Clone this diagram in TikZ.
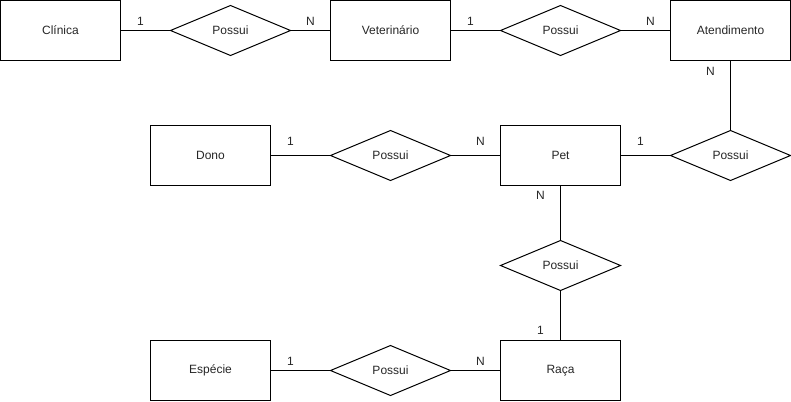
\documentclass[tikz,border=0pt]{standalone}
\usepackage{fontspec}
\setmainfont{Liberation Sans}
\usetikzlibrary{shapes.geometric}
\begin{document}
\begin{tikzpicture}[x=1pt,y=-1pt,
  every node/.style={font=\fontsize{12}{14}\selectfont, text=black!85},
  entity/.style={draw=black, line width=1pt, minimum width=120pt, minimum height=60pt, inner sep=0pt, outer sep=0pt},
  rel/.style={draw=black, line width=1pt, diamond, aspect=2.4, minimum width=120pt, minimum height=50pt, inner sep=0pt, outer sep=0pt},
  conn/.style={draw=black, line width=1pt},
  card/.style={inner sep=0pt}]
\useasboundingbox (0,0) rectangle (791,401);
\begin{scope}[xshift=0.5pt,yshift=-0.5pt]
% entities
\node[entity] (clinica) at (60,30) {Clínica};
\node[entity] (vet) at (390,30) {Veterinário};
\node[entity] (atend) at (730,30) {Atendimento};
\node[entity] (dono) at (210,155) {Dono};
\node[entity] (pet) at (560,155) {Pet};
\node[entity] (especie) at (210,370) {Espécie};
\node[entity] (raca) at (560,370) {Raça};
% relationships
\node[rel] (r1) at (230,30) {Possui};
\node[rel] (r2) at (560,30) {Possui};
\node[rel] (r3) at (390,155) {Possui};
\node[rel] (r4) at (730,155) {Possui};
\node[rel] (r5) at (560,265) {Possui};
\node[rel] (r6) at (390,370) {Possui};
% connectors
\draw[conn] (clinica.east) -- (r1.west);
\draw[conn] (r1.east) -- (vet.west);
\draw[conn] (vet.east) -- (r2.west);
\draw[conn] (r2.east) -- (atend.west);
\draw[conn] (atend.south) -- (r4.north);
\draw[conn] (pet.east) -- (r4.west);
\draw[conn] (dono.east) -- (r3.west);
\draw[conn] (r3.east) -- (pet.west);
\draw[conn] (pet.south) -- (r5.north);
\draw[conn] (r5.south) -- (raca.north);
\draw[conn] (especie.east) -- (r6.west);
\draw[conn] (r6.east) -- (raca.west);
% cardinalities
\node[card] (c1) at (140,21) {1};
\node[card] (c2) at (310,21) {N};
\node[card] (c3) at (470,21) {1};
\node[card] (c4) at (650,21) {N};
\node[card] (c5) at (710,71) {N};
\node[card] (c6) at (290,141) {1};
\node[card] (c7) at (480,141) {N};
\node[card] (c8) at (640,141) {1};
\node[card] (c9) at (540,195) {N};
\node[card] (c10) at (540,330) {1};
\node[card] (c11) at (290,361) {1};
\node[card] (c12) at (480,361) {N};
\end{scope}
\end{tikzpicture}
\end{document}
